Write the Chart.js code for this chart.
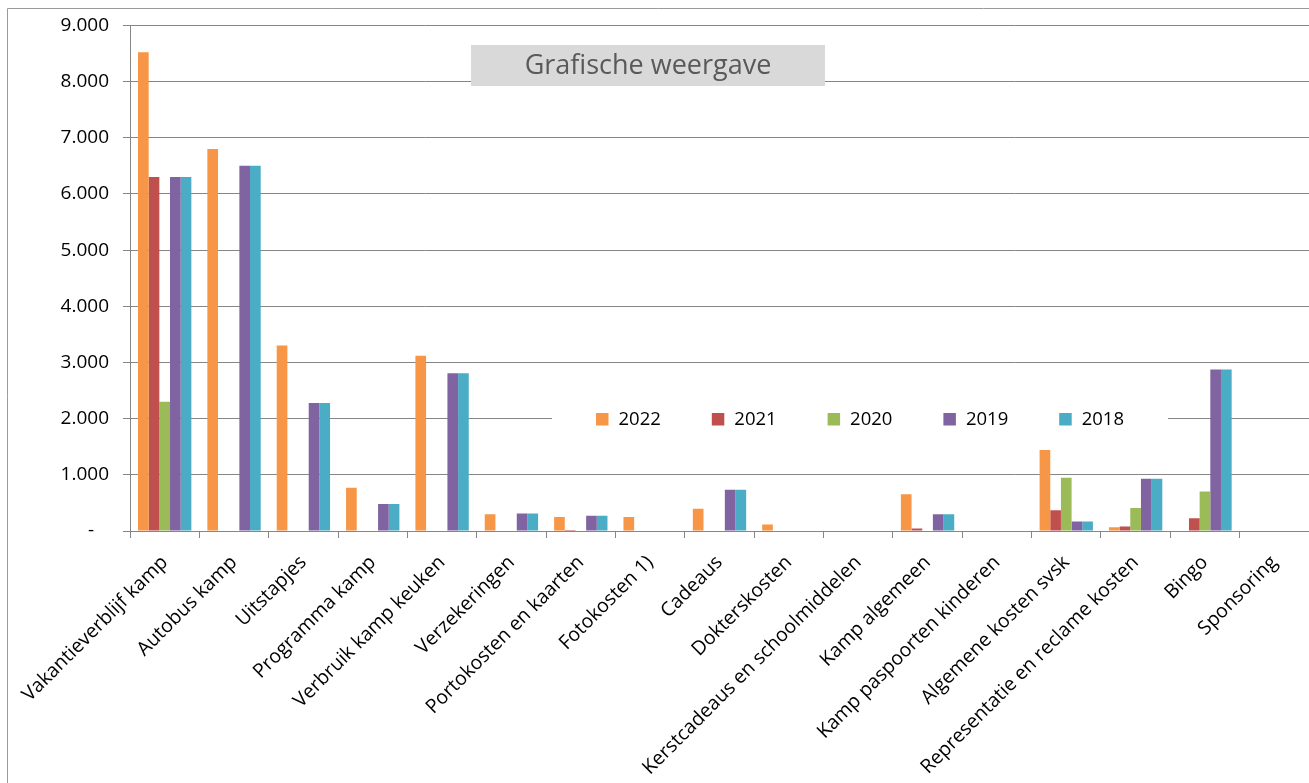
<!DOCTYPE html>
<html><head><meta charset="utf-8">
<script src="https://cdn.jsdelivr.net/npm/chart.js@4"></script>
<style>html,body{margin:0;padding:0;background:#fff;overflow:hidden}#wrap{position:relative;width:1309px;height:783px}</style>
</head><body><div id="wrap"><canvas id="c" width="1309" height="783"></canvas></div>
<script>
const categories = ['Vakantieverblijf kamp','Autobus kamp','Uitstapjes','Programma kamp','Verbruik kamp keuken','Verzekeringen','Portokosten en kaarten','Fotokosten 1)','Cadeaus','Dokterskosten','Kerstcadeaus en schoolmiddelen','Kamp algemeen','Kamp paspoorten kinderen','Algemene kosten svsk','Representatie en reclame kosten','Bingo','Sponsoring'];
const years = ['2022','2021','2020','2019','2018'];
const v2022 = [8520,6800,3300,770,3120,300,250,250,395,115,null,655,null,1440,65,null,null];
const v2021 = [6300,null,null,null,null,null,20,null,null,null,null,45,null,370,80,225,null];
const v2020 = [2300,null,null,null,null,null,10,null,null,null,null,null,null,950,410,705,null];
const v2019 = [6300,6500,2280,480,2810,310,270,null,735,10,null,300,null,170,930,2875,null];
const v2018 = [6300,6500,2280,480,2810,310,270,null,735,10,null,300,null,170,930,2875,null];
const yTicks = [0,1000,2000,3000,4000,5000,6000,7000,8000,9000];
const titleText = 'Grafische weergave';

const colors = ['#F79646','#C0504D','#9BBB59','#8064A2','#4BACC6'];
const series = [v2022,v2021,v2020,v2019,v2018];
const FONT = "'Open Sans', 'Liberation Sans', sans-serif";
const GRID = '#868686';

function fmt(v){ if(v===0) return '-   '; return String(v).replace(/\B(?=(\d{3})+(?!\d))/g,'.'); }

const decor = {
  id:'decor',
  beforeDatasetsDraw(chart){
    const ctx = chart.ctx, y = chart.scales.y;
    ctx.save();
    const ly = y.getPixelForValue(2000);
    ctx.fillStyle = '#fff';
    ctx.fillRect(552, ly-14, 616, 28);
    ctx.font = "18.5px " + FONT;
    ctx.textBaseline = 'middle';
    ctx.textAlign = 'left';
    let x = 596;
    years.forEach((yr,i)=>{
      ctx.fillStyle = colors[i];
      ctx.fillRect(x, Math.round(ly)-6, 12.5, 12.5);
      ctx.fillStyle = '#000';
      ctx.fillText(yr, x+22.5, ly+1);
      x += 115.8;
    });
    ctx.fillStyle = '#d9d9d9';
    ctx.fillRect(471, 45, 354, 41);
    ctx.fillStyle = '#595959';
    ctx.font = "27px " + FONT;
    ctx.textAlign = 'center';
    ctx.fillText(titleText, 648, 66);
    ctx.restore();
  },
  afterDraw(chart){
    const ctx = chart.ctx;
    ctx.save();
    ctx.strokeStyle = '#9a9a9a';
    ctx.lineWidth = 1;
    ctx.beginPath();
    ctx.moveTo(7.5, 783); ctx.lineTo(7.5, 8.5); ctx.lineTo(1309, 8.5);
    ctx.stroke();
    ctx.restore();
  }
};

new Chart(document.getElementById('c'), {
  type:'bar',
  data:{
    labels: categories,
    datasets: years.map((yr,i)=>({label:yr, data:series[i], backgroundColor:colors[i], borderWidth:0, categoryPercentage:5/6.5, barPercentage:1}))
  },
  options:{
    responsive:false, animation:false, devicePixelRatio:1,
    layout:{padding:{top:23,left:0,right:0,bottom:0}},
    plugins:{legend:{display:false}, tooltip:{enabled:false}, title:{display:false}},
    scales:{
      x:{
        grid:{display:true, drawOnChartArea:false, drawTicks:true, tickLength:7, color:GRID, offset:true},
        border:{display:true, color:GRID},
        ticks:{autoSkip:false, minRotation:45, maxRotation:45, padding:13, color:'#000', font:{family:FONT, size:19.5}},
        afterFit(s){ s.height = 252; }
      },
      y:{
        min:0, max:9000,
        afterBuildTicks(s){ s.ticks = yTicks.map(v=>({value:v})); },
        grid:{color:GRID, tickLength:7, drawTicks:true},
        border:{display:true, color:GRID},
        ticks:{padding:14, color:'#000', font:{family:FONT, size:19}, callback:(v)=>fmt(v)},
        afterFit(s){ s.width = 130; }
      }
    }
  },
  plugins:[decor]
});
</script></body></html>
